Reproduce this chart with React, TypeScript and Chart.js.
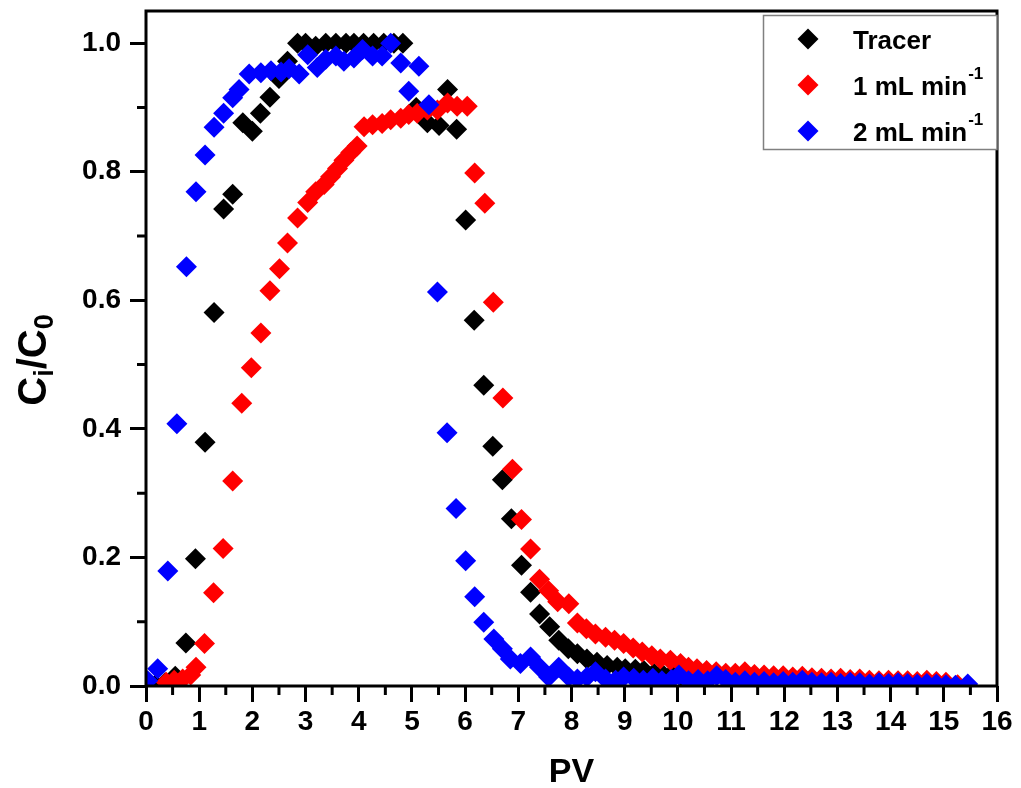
import React, { useEffect, useRef } from "react";
import { Chart, registerables } from "chart.js";

Chart.register(...registerables);

// Breakthrough curves: relative concentration Ci/C0 against pore volumes (PV)
const pvTracer = [0.18, 0.36, 0.55, 0.75, 0.93, 1.11, 1.28, 1.46, 1.63, 1.82, 2.0, 2.15, 2.33, 2.5, 2.66, 2.85, 3.0, 3.19, 3.38, 3.57, 3.76, 3.91, 4.09, 4.28, 4.47, 4.66, 4.83, 5.08, 5.29, 5.51, 5.67, 5.84, 6.01, 6.17, 6.35, 6.52, 6.7, 6.87, 7.06, 7.23, 7.4, 7.59, 7.76, 7.94, 8.11, 8.29, 8.48, 8.67, 8.86, 9.01, 9.2, 9.36, 9.55, 9.7, 9.88, 10.05, 10.22, 10.4];
const ciTracer = [0.002, 0.005, 0.015, 0.067, 0.198, 0.379, 0.581, 0.742, 0.765, 0.876, 0.863, 0.891, 0.916, 0.945, 0.972, 1.0, 1.0, 0.995, 1.0, 1.0, 1.0, 1.0, 1.0, 1.0, 1.0, 1.0, 1.0, 0.9, 0.876, 0.872, 0.928, 0.866, 0.725, 0.569, 0.468, 0.373, 0.321, 0.26, 0.188, 0.146, 0.112, 0.092, 0.071, 0.058, 0.05, 0.042, 0.037, 0.032, 0.029, 0.027, 0.026, 0.024, 0.02, 0.019, 0.018, 0.016, 0.014, 0.012];

const pvFlow1 = [0.38, 0.53, 0.69, 0.84, 0.94, 1.1, 1.27, 1.45, 1.63, 1.8, 1.98, 2.16, 2.33, 2.51, 2.66, 2.85, 3.04, 3.19, 3.35, 3.47, 3.6, 3.72, 3.85, 3.97, 4.1, 4.26, 4.44, 4.6, 4.79, 4.94, 5.1, 5.29, 5.48, 5.67, 5.85, 6.04, 6.18, 6.37, 6.53, 6.71, 6.89, 7.06, 7.23, 7.4, 7.57, 7.74, 7.95, 8.11, 8.28, 8.45, 8.64, 8.81, 8.98, 9.16, 9.33, 9.51, 9.67, 9.86, 10.05, 10.2, 10.36, 10.54, 10.72, 10.9, 11.08, 11.26, 11.44, 11.62, 11.8, 11.98, 12.16, 12.34, 12.52, 12.7, 12.88, 13.06, 13.24, 13.42, 13.6, 13.78, 13.96, 14.14, 14.32, 14.5, 14.68, 14.86, 15.04, 15.26];
const ciFlow1 = [0.006, 0.009, 0.011, 0.017, 0.029, 0.066, 0.145, 0.214, 0.319, 0.44, 0.495, 0.549, 0.615, 0.649, 0.689, 0.728, 0.752, 0.769, 0.78, 0.792, 0.805, 0.818, 0.83, 0.84, 0.87, 0.873, 0.875, 0.881, 0.883, 0.889, 0.891, 0.896, 0.896, 0.907, 0.902, 0.902, 0.798, 0.751, 0.597, 0.448, 0.337, 0.259, 0.213, 0.166, 0.148, 0.131, 0.128, 0.098, 0.089, 0.081, 0.076, 0.071, 0.066, 0.059, 0.053, 0.047, 0.042, 0.04, 0.035, 0.029, 0.027, 0.024, 0.022, 0.02, 0.02, 0.022, 0.018, 0.017, 0.016, 0.016, 0.014, 0.015, 0.013, 0.012, 0.011, 0.012, 0.01, 0.011, 0.009, 0.008, 0.009, 0.008, 0.008, 0.007, 0.009, 0.007, 0.006, 0.002];

const pvFlow2 = [0.03, 0.22, 0.41, 0.58, 0.76, 0.94, 1.11, 1.28, 1.46, 1.63, 1.75, 1.94, 2.16, 2.35, 2.54, 2.69, 2.88, 3.04, 3.22, 3.38, 3.57, 3.72, 3.91, 4.07, 4.26, 4.44, 4.6, 4.79, 4.94, 5.13, 5.32, 5.48, 5.66, 5.83, 6.01, 6.18, 6.35, 6.54, 6.7, 6.85, 7.04, 7.23, 7.4, 7.57, 7.76, 7.95, 8.11, 8.29, 8.45, 8.64, 8.83, 8.98, 9.17, 9.35, 9.53, 9.7, 9.88, 10.02, 10.2, 10.38, 10.56, 10.73, 10.9, 11.08, 11.26, 11.44, 11.62, 11.8, 11.98, 12.16, 12.34, 12.52, 12.7, 12.88, 13.06, 13.24, 13.42, 13.6, 13.78, 13.96, 14.14, 14.32, 14.5, 14.68, 14.86, 15.04, 15.22, 15.45];
const ciFlow2 = [0.008, 0.027, 0.179, 0.408, 0.652, 0.769, 0.826, 0.869, 0.891, 0.915, 0.928, 0.952, 0.954, 0.957, 0.955, 0.96, 0.952, 0.982, 0.962, 0.975, 0.98, 0.972, 0.977, 0.99, 0.98, 0.98, 1.0, 0.969, 0.925, 0.964, 0.904, 0.613, 0.394, 0.276, 0.195, 0.139, 0.099, 0.073, 0.058, 0.042, 0.035, 0.045, 0.029, 0.014, 0.029, 0.014, 0.011, 0.014, 0.022, 0.011, 0.009, 0.014, 0.012, 0.009, 0.012, 0.008, 0.01, 0.017, 0.008, 0.01, 0.008, 0.016, 0.01, 0.006, 0.008, 0.006, 0.007, 0.005, 0.007, 0.006, 0.009, 0.006, 0.005, 0.006, 0.004, 0.006, 0.005, 0.003, 0.005, 0.004, 0.005, 0.004, 0.003, 0.004, 0.003, 0.002, 0.001, 0.003];

const seriesNames = ["Tracer", "1 mL min", "2 mL min"];
const seriesSup = ["", "-1", "-1"];
const seriesColors = ["#000000", "#ff0000", "#0000ff"];

const xTitle = "PV";
const FONT = "'Liberation Sans', Arial, sans-serif";
const MARK_R = 10.5;

const pairs = (xs: number[], ys: number[]) => xs.map((x, i) => ({ x, y: ys[i] }));

const decorPlugin = {
  id: "decor",
  afterDraw(chart: any) {
    const ctx: CanvasRenderingContext2D = chart.ctx;
    const { left, right, top, bottom } = chart.chartArea;
    const xs = chart.scales.x;
    const ys = chart.scales.y;
    ctx.save();

    // minor ticks
    ctx.strokeStyle = "#000";
    ctx.lineWidth = 3;
    ctx.beginPath();
    for (let v = 0.5; v < 16; v += 1) {
      const px = xs.getPixelForValue(v);
      ctx.moveTo(px, bottom);
      ctx.lineTo(px, bottom + 9);
    }
    for (let v = 0.1; v < 1.0; v += 0.2) {
      const py = ys.getPixelForValue(v);
      ctx.moveTo(left, py);
      ctx.lineTo(left - 9, py);
    }
    ctx.stroke();

    // plot frame
    ctx.lineWidth = 3;
    ctx.strokeRect(left, top, right - left, bottom - top);

    // x title
    ctx.fillStyle = "#000";
    ctx.font = `bold 34px ${FONT}`;
    ctx.textAlign = "center";
    ctx.textBaseline = "alphabetic";
    ctx.fillText(xTitle, (left + right) / 2, 782);

    // y title Ci/C0 with subscripts
    const big = `bold 40px ${FONT}`;
    const small = `bold 27px ${FONT}`;
    const parts: [string, boolean][] = [["C", false], ["i", true], ["/C", false], ["0", true]];
    let total = 0;
    for (const [t, sub] of parts) {
      ctx.font = sub ? small : big;
      total += ctx.measureText(t).width;
    }
    ctx.save();
    ctx.translate(46, 360);
    ctx.rotate(-Math.PI / 2);
    ctx.textAlign = "left";
    let cx = -total / 2;
    for (const [t, sub] of parts) {
      ctx.font = sub ? small : big;
      ctx.fillText(t, cx, sub ? 7 : 0);
      cx += ctx.measureText(t).width;
    }
    ctx.restore();

    // legend
    const bx = 763.5, by = 15.5, bw = right - 763.5, bh = 134;
    ctx.fillStyle = "#fff";
    ctx.fillRect(bx, by, bw, bh);
    ctx.strokeStyle = "#808080";
    ctx.lineWidth = 1.5;
    ctx.strokeRect(bx, by, bw, bh);
    chart.data.datasets.forEach((ds: any, i: number) => {
      const ry = 39 + i * 46;
      ctx.fillStyle = ds.backgroundColor;
      ctx.beginPath();
      ctx.moveTo(808 - MARK_R, ry);
      ctx.lineTo(808, ry - MARK_R);
      ctx.lineTo(808 + MARK_R, ry);
      ctx.lineTo(808, ry + MARK_R);
      ctx.closePath();
      ctx.fill();
      ctx.fillStyle = "#000";
      ctx.font = `bold 26px ${FONT}`;
      ctx.textAlign = "left";
      ctx.fillText(ds.label, 853, ry + 10);
      const w = ctx.measureText(ds.label).width;
      if (seriesSup[i]) {
        ctx.font = `bold 17px ${FONT}`;
        ctx.fillText(seriesSup[i], 853 + w + 1, ry - 6);
      }
    });

    ctx.restore();
  },
};

export default function App() {
  const ref = useRef<HTMLCanvasElement | null>(null);

  useEffect(() => {
    document.body.style.margin = "0";
    const canvas = ref.current;
    if (!canvas) return;
    const series = [pairs(pvTracer, ciTracer), pairs(pvFlow1, ciFlow1), pairs(pvFlow2, ciFlow2)];
    const chart = new Chart(canvas, {
      type: "scatter",
      data: {
        datasets: series.map((d, i) => ({
          label: seriesNames[i],
          data: d,
          backgroundColor: seriesColors[i],
          borderColor: seriesColors[i],
          pointStyle: "rectRot",
          pointRadius: MARK_R,
          pointBorderWidth: 0,
          clip: 0,
          order: 3 - i,
        })),
      },
      options: {
        responsive: false,
        animation: false,
        layout: { padding: { top: 11, right: 24, left: 0, bottom: 0 } },
        plugins: { legend: { display: false }, tooltip: { enabled: false } },
        scales: {
          x: {
            type: "linear",
            min: 0,
            max: 16,
            afterFit: (s: any) => {
              s.height = 102;
              s.paddingLeft = 0;
              s.paddingRight = 0;
            },
            border: { display: false },
            grid: {
              display: true,
              drawOnChartArea: false,
              drawTicks: true,
              tickLength: 16,
              tickWidth: 3,
              tickColor: "#000",
            },
            ticks: {
              stepSize: 1,
              autoSkip: false,
              maxRotation: 0,
              padding: 3,
              color: "#000",
              font: { family: FONT, weight: "bold", size: 28 },
            },
          },
          y: {
            type: "linear",
            min: 0,
            max: 1.05,
            afterFit: (s: any) => {
              s.width = 146;
              s.paddingTop = 0;
              s.paddingBottom = 0;
            },
            border: { display: false },
            grid: {
              display: true,
              drawOnChartArea: false,
              drawTicks: true,
              tickLength: 16,
              tickWidth: 3,
              tickColor: "#000",
            },
            ticks: {
              stepSize: 0.2,
              includeBounds: false,
              padding: 9,
              color: "#000",
              font: { family: FONT, weight: "bold", size: 28 },
              callback: (v: any) => Number(v).toFixed(1),
            },
          },
        },
      },
      plugins: [decorPlugin],
    } as any);
    return () => chart.destroy();
  }, []);

  return (
    <div style={{ position: "absolute", left: 0, top: 0, width: 1021, height: 788, background: "#fff" }}>
      <canvas ref={ref} width={1021} height={788} />
    </div>
  );
}
